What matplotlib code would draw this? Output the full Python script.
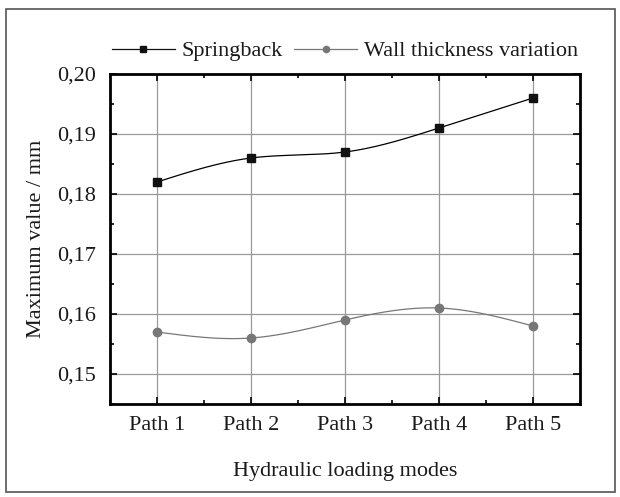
import numpy as np
import matplotlib.pyplot as plt
from matplotlib.patches import Rectangle
from matplotlib.ticker import MultipleLocator

paths = ['Path 1', 'Path 2', 'Path 3', 'Path 4', 'Path 5']
springback = [0.182, 0.186, 0.187, 0.191, 0.196]
wall = [0.157, 0.156, 0.159, 0.161, 0.158]


def natural_spline(x, y, n=200):
    # natural cubic spline through the points, only for drawing the smooth line
    x = np.asarray(x, float)
    y = np.asarray(y, float)
    k = len(x)
    h = np.diff(x)
    A = np.zeros((k, k))
    b = np.zeros(k)
    A[0, 0] = A[-1, -1] = 1
    for i in range(1, k - 1):
        A[i, i - 1] = h[i - 1]
        A[i, i] = 2 * (h[i - 1] + h[i])
        A[i, i + 1] = h[i]
        b[i] = 6 * ((y[i + 1] - y[i]) / h[i] - (y[i] - y[i - 1]) / h[i - 1])
    M = np.linalg.solve(A, b)
    xs = np.linspace(x[0], x[-1], n)
    j = np.clip(np.searchsorted(x, xs) - 1, 0, k - 2)
    t0 = xs - x[j]
    t1 = x[j + 1] - xs
    hh = h[j]
    ys = (M[j] * t1**3 + M[j + 1] * t0**3) / (6 * hh) \
        + (y[j] / hh - M[j] * hh / 6) * t1 + (y[j + 1] / hh - M[j + 1] * hh / 6) * t0
    return xs, ys


plt.rcParams['font.family'] = ['Liberation Serif', 'DejaVu Serif']
plt.rcParams['font.size'] = 16
plt.rcParams['text.color'] = '#1a1a1a'
plt.rcParams['xtick.labelcolor'] = '#1a1a1a'
plt.rcParams['ytick.labelcolor'] = '#1a1a1a'
plt.rcParams['axes.labelcolor'] = '#1a1a1a'

fig = plt.figure(figsize=(6.2, 4.97), dpi=100)
ax = fig.add_axes([0.1774, 0.1871, 0.7581, 0.664])

x = np.arange(1, len(paths) + 1)
gray = '#777777'

xs, ys = natural_spline(x, springback)
ax.plot(xs, ys, color='black', lw=0.9, zorder=3)
ax.plot(x, springback, 's', color='#111111', ms=5.3, zorder=4)
ax.plot([], [], '-s', color='#111111', lw=0.9, ms=5, label='Springback')

xs, ys = natural_spline(x, wall)
ax.plot(xs, ys, color=gray, lw=0.9, zorder=3)
ax.plot(x, wall, 'o', color=gray, ms=6, zorder=4)
ax.plot([], [], '-o', color=gray, lw=0.9, ms=4.5, label='Wall thickness variation')

ax.set_xlim(0.5, 5.5)
ax.set_ylim(0.145, 0.20)
ax.set_xticks(x)
ax.set_xticklabels(paths)
ax.xaxis.set_minor_locator(MultipleLocator(0.5))
ax.set_yticks([0.15, 0.16, 0.17, 0.18, 0.19, 0.20])
ax.set_yticklabels(['0,15', '0,16', '0,17', '0,18', '0,19', '0,20'])
ax.yaxis.set_minor_locator(MultipleLocator(0.005))
ax.tick_params(which='both', direction='in', top=True, right=True, width=1.2)
ax.tick_params(axis='x', pad=8.5)
ax.tick_params(axis='y', pad=10)
ax.tick_params(which='major', length=5)
ax.tick_params(which='minor', length=3)
ax.grid(True, which='major', color='#999999', lw=0.9)
for s in ax.spines.values():
    s.set_linewidth(2)

ax.set_xlabel('Hydraulic loading modes')
ax.xaxis.set_label_coords(0.5, -0.175)
ax.set_ylabel('Maximum value / mm')
ax.yaxis.set_label_coords(-0.137, 0.5)

ax.legend(loc='center', bbox_to_anchor=(0.5, 1 + 23 / 330), ncol=2, frameon=False,
          handlelength=2.85, columnspacing=0.5, handletextpad=0.3, borderaxespad=0)

fig.patches.append(Rectangle((6 / 620, 5 / 497), 609 / 620, 483 / 497,
                             transform=fig.transFigure, fill=False,
                             edgecolor='#555555', lw=1.2))

fig.savefig('out.png', dpi=100)
